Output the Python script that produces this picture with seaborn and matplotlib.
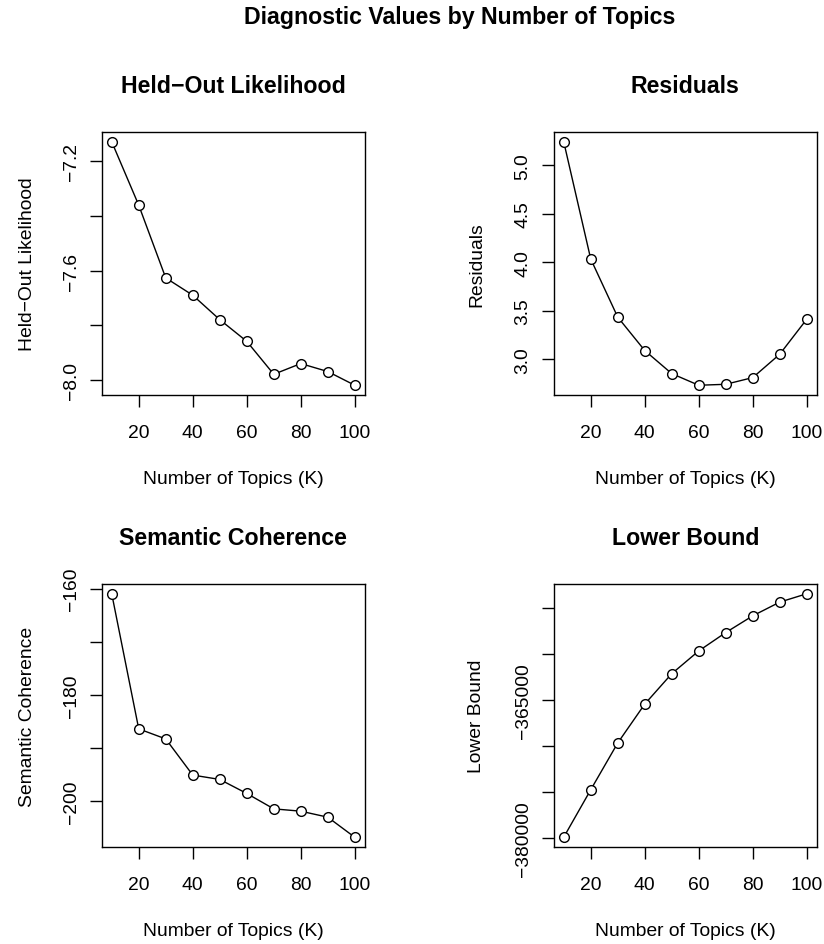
import matplotlib
matplotlib.use("Agg")
import matplotlib.pyplot as plt
import seaborn as sns

# ---- data ----
K = [10, 20, 30, 40, 50, 60, 70, 80, 90, 100]
heldout = [-7.131, -7.362, -7.627, -7.690, -7.779, -7.858, -7.978, -7.939, -7.968, -8.018]
residuals = [5.241, 4.033, 3.434, 3.090, 2.852, 2.732, 2.742, 2.811, 3.052, 3.413]
semcoh = [-160.94, -186.39, -188.28, -195.09, -195.91, -198.55, -201.45, -201.89, -203.02, -206.80]
lbound = [-379927, -374760, -369665, -365437, -362128, -359650, -357649, -355830, -354338, -353428]

x_ticks = [20, 40, 60, 80, 100]
x_tick_labels = ["20", "40", "60", "80", "100"]

heldout_ticks = [-8.0, -7.8, -7.6, -7.4, -7.2]
heldout_tick_labels = ["−8.0", "", "−7.6", "", "−7.2"]
resid_ticks = [3.0, 3.5, 4.0, 4.5, 5.0]
resid_tick_labels = ["3.0", "3.5", "4.0", "4.5", "5.0"]
semcoh_ticks = [-200, -190, -180, -170, -160]
semcoh_tick_labels = ["−200", "", "−180", "", "−160"]
lbound_ticks = [-380000, -375000, -370000, -365000, -360000, -355000]
lbound_tick_labels = ["−380000", "", "", "−365000", "", ""]

titles = ["Held−Out Likelihood", "Residuals", "Semantic Coherence", "Lower Bound"]
ylabels = ["Held−Out Likelihood", "Residuals", "Semantic Coherence", "Lower Bound"]
xlabel = "Number of Topics (K)"
suptitle = "Diagnostic Values by Number of Topics"

# ---- style ----
sns.set_style("ticks")
plt.rcParams["font.family"] = ["Liberation Sans", "DejaVu Sans"]
plt.rcParams["axes.xmargin"] = 0.04
plt.rcParams["axes.ymargin"] = 0.04
plt.rcParams["text.color"] = "black"
plt.rcParams["axes.labelcolor"] = "black"
plt.rcParams["xtick.color"] = "black"
plt.rcParams["ytick.color"] = "black"

W, H = 824, 945
DPI = 100
BASE = 13.9
fig = plt.figure(figsize=(W / DPI, H / DPI), dpi=DPI)
fig.patch.set_facecolor("white")

boxes = [(102, 133), (554, 133), (102, 585), (554, 585)]
bw, bh = 262.5, 263

series = [heldout, residuals, semcoh, lbound]
yticks = [heldout_ticks, resid_ticks, semcoh_ticks, lbound_ticks]
ytlabels = [heldout_tick_labels, resid_tick_labels, semcoh_tick_labels, lbound_tick_labels]

for i in range(4):
    x0, top = boxes[i]
    ax = fig.add_axes([x0 / W, (H - top - bh) / H, bw / W, bh / H])
    sns.lineplot(x=K, y=series[i], ax=ax, color="black", marker="o",
                 markersize=7, markerfacecolor="white", markeredgecolor="black",
                 markeredgewidth=1.0, linewidth=1.0, errorbar=None)
    ax.set_xticks(x_ticks, x_tick_labels)
    ax.set_yticks(yticks[i], ytlabels[i], rotation=90, va="center")
    ax.tick_params(axis="both", direction="out", length=8.6, width=1.0,
                   labelsize=BASE, colors="black")
    ax.tick_params(axis="x", pad=12.0)
    ax.tick_params(axis="y", pad=7.5)
    for sp in ax.spines.values():
        sp.set_visible(True)
        sp.set_color("black")
        sp.set_linewidth(1.0)
    ax.set_title(titles[i], fontsize=BASE * 1.2, fontweight="bold", pad=28.5,
                 color="black")
    ax.set_xlabel(xlabel, fontsize=BASE, color="black")
    ax.set_ylabel(ylabels[i], fontsize=BASE, color="black")
    ax.xaxis.set_label_coords(0.5, -0.287)
    ax.yaxis.set_label_coords(-0.252 if i % 2 == 0 else -0.262, 0.5)
    ax.grid(False)

fig.text(459.5 / W, 1 - 24 / H, suptitle, ha="center", va="baseline",
         fontsize=BASE * 1.2, fontweight="bold", color="black")

fig.savefig("out.png", dpi=DPI, facecolor="white")
